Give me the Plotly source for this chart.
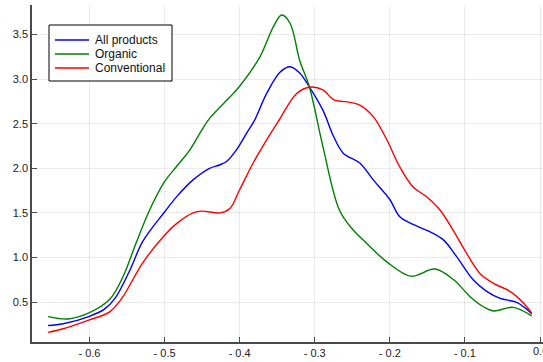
import plotly.graph_objects as go

# Data
all_x = [-0.655, -0.635, -0.600, -0.580, -0.566, -0.546, -0.529, -0.500, -0.484, -0.462, -0.440,
         -0.426, -0.417, -0.404, -0.391, -0.380, -0.364, -0.346, -0.333, -0.320, -0.307, -0.289,
         -0.275, -0.262, -0.240, -0.222, -0.200, -0.187, -0.169, -0.147, -0.129, -0.111, -0.089,
         -0.071, -0.053, -0.031, -0.011]
all_y = [0.236, 0.256, 0.34, 0.42, 0.54, 0.86, 1.18, 1.51, 1.68, 1.87, 2.00,
         2.04, 2.08, 2.21, 2.39, 2.54, 2.84, 3.08, 3.14, 3.07, 2.91, 2.65,
         2.36, 2.17, 2.06, 1.87, 1.65, 1.46, 1.37, 1.29, 1.20, 1.01, 0.75,
         0.62, 0.54, 0.495, 0.37]

org_x = [-0.655, -0.628, -0.600, -0.573, -0.555, -0.538, -0.520, -0.500, -0.484, -0.466, -0.451,
         -0.440, -0.413, -0.400, -0.373, -0.355, -0.344, -0.333, -0.320, -0.307, -0.289, -0.267,
         -0.249, -0.231, -0.204, -0.172, -0.140, -0.115, -0.093, -0.076, -0.062, -0.036, -0.011]
org_y = [0.337, 0.31, 0.38, 0.53, 0.79, 1.16, 1.53, 1.85, 2.02, 2.21, 2.42,
         2.56, 2.80, 2.92, 3.25, 3.59, 3.72, 3.63, 3.21, 2.91, 2.24, 1.53,
         1.31, 1.16, 0.95, 0.79, 0.87, 0.75, 0.56, 0.45, 0.40, 0.44, 0.345]

con_x = [-0.655, -0.635, -0.600, -0.573, -0.557, -0.529, -0.500, -0.484, -0.462, -0.450, -0.426,
         -0.413, -0.400, -0.382, -0.364, -0.349, -0.324, -0.307, -0.289, -0.275, -0.253, -0.240,
         -0.222, -0.204, -0.187, -0.169, -0.151, -0.133, -0.116, -0.098, -0.080, -0.062, -0.040,
         -0.022, -0.011]
con_y = [0.16, 0.20, 0.30, 0.39, 0.54, 0.94, 1.25, 1.38, 1.50, 1.52, 1.50,
         1.55, 1.76, 2.06, 2.32, 2.52, 2.84, 2.91, 2.88, 2.77, 2.74, 2.71,
         2.58, 2.32, 2.02, 1.79, 1.68, 1.53, 1.31, 1.05, 0.82, 0.71, 0.62,
         0.49, 0.375]

series_names = ["All products", "Organic", "Conventional"]
series_colors = ["#0000ff", "#008000", "#ff0000"]

x_tickvals = [-0.6, -0.5, -0.4, -0.3, -0.2, -0.1, 0.0]
x_ticktext = ["- 0.6", "- 0.5", "- 0.4", "- 0.3", "- 0.2", "- 0.1", "0.0"]
y_tickvals = [0.5, 1.0, 1.5, 2.0, 2.5, 3.0, 3.5]
y_ticktext = ["0.5", "1.0", "1.5", "2.0", "2.5", "3.0", "3.5"]

FONT = "Liberation Sans, Arial, sans-serif"

fig = go.Figure()
for name, xs, ys, col in zip(series_names, [all_x, org_x, con_x], [all_y, org_y, con_y],
                             series_colors):
    fig.add_trace(go.Scatter(x=xs, y=ys, mode="lines", name=name, showlegend=False,
                             line=dict(color=col, width=1.4, shape="spline", smoothing=1.0)))

axis_common = dict(showgrid=True, gridcolor="rgba(0,0,0,0.08)", gridwidth=1,
                   showline=True, linecolor="#4a4a4a", linewidth=1.5,
                   ticks="inside", ticklen=5, tickcolor="#4a4a4a", tickwidth=1,
                   zeroline=False,
                   tickfont=dict(family=FONT, size=11, color="#222222"))

# last label drawn separately so that it is clipped by the page edge like the reference
fig.update_xaxes(range=[-0.6765, 0.004], tickvals=x_tickvals,
                 ticktext=x_ticktext[:-1] + [""], **axis_common)
fig.update_yaxes(range=[0.0516, 3.832], tickvals=y_tickvals, ticktext=y_ticktext,
                 **axis_common)

# Manual legend (compact, like the reference)
L, T, W, H = 32, 5, 511, 337  # plot area in pixels
def px_x(p):
    return (p - L) / W
def px_y(p):
    return (T + H - p) / H

shapes = [dict(type="rect", xref="paper", yref="paper",
               x0=px_x(49), x1=px_x(172), y0=px_y(81), y1=px_y(25),
               line=dict(color="black", width=1), fillcolor="white", layer="above")]
annotations = [dict(xref="x", yref="paper", x=x_tickvals[-1], y=0, yanchor="top",
                    xanchor="center", showarrow=False, text=x_ticktext[-1], yshift=-1,
                    font=dict(family=FONT, size=11, color="#222222"))]
for i, (name, col) in enumerate(zip(series_names, series_colors)):
    yy = 40 + 14 * i
    shapes.append(dict(type="line", xref="paper", yref="paper",
                       x0=px_x(55), x1=px_x(89), y0=px_y(yy), y1=px_y(yy),
                       line=dict(color=col, width=1.4), layer="above"))
    annotations.append(dict(xref="paper", yref="paper", x=px_x(93), y=px_y(yy),
                            xanchor="left", yanchor="middle", showarrow=False,
                            text=name, font=dict(family=FONT, size=12, color="#111111")))

fig.update_layout(
    width=543, height=362,
    margin=dict(l=32, r=0, t=5, b=20),
    plot_bgcolor="white", paper_bgcolor="white",
    font=dict(family=FONT, size=11, color="#111111"),
    showlegend=False,
    shapes=shapes, annotations=annotations,
)

fig.write_html("out.html")
